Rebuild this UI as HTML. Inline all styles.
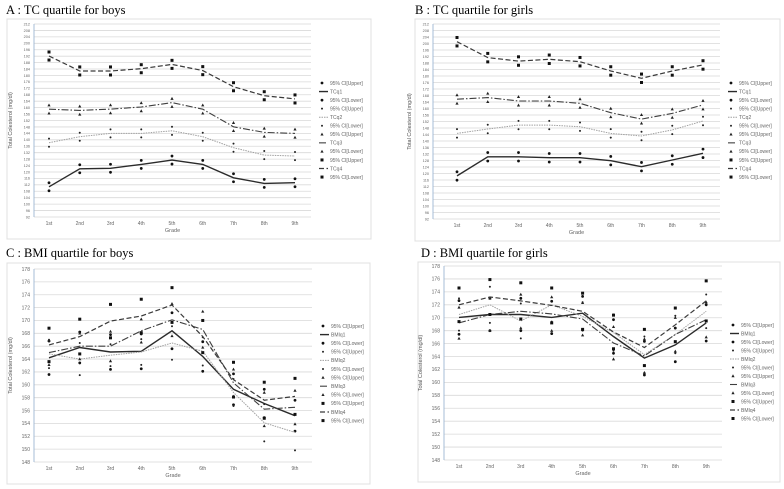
<!DOCTYPE html>
<html><head><meta charset="utf-8">
<style>
html,body{margin:0;padding:0;background:#fff;}
svg{display:block;font-family:"Liberation Sans",sans-serif;}
.ttl{font-family:"Liberation Serif",serif;font-size:12.5px;fill:#000;}
</style></head>
<body>
<svg id="fig" width="784" height="489" viewBox="0 0 784 489" xmlns="http://www.w3.org/2000/svg">
<text class="ttl" x="6" y="14">A : TC quartile for boys</text>
<text class="ttl" x="415" y="14">B : TC quartile for girls</text>
<text class="ttl" x="6" y="257">C : BMI quartile for boys</text>
<text class="ttl" x="421" y="257">D : BMI quartile for girls</text>
</svg>
<script>
const grades = ["1st","2nd","3rd","4th","5th","6th","7th","8th","9th"];
const tcTicks = [212,208,204,200,196,192,188,184,180,176,172,168,164,160,156,152,148,144,140,136,132,128,124,120,116,112,108,104,100,96,92];
const bmiTicks = [178,176,174,172,170,168,166,164,162,160,158,156,154,152,150,148];

const aQ1 = [110.8,122,122.3,124.7,127.4,124.7,116.4,112.9,113.3];
const aQ2 = [138.2,141.9,144,144,145.6,141.9,135.1,130.5,129.9];
const aQ3 = [159,158.3,159.1,160.4,163.1,159,148.1,144.6,144];
const aQ4 = [192.1,182.8,182.8,184.2,186.9,183,173,167.4,165.4];
const aCI = [2.5,2.5,2.5,2.5,2.5,2.5,2.5,2.5,2.5];

const bQ1 = [118.5,130.3,130.3,129.7,129.7,127.9,124.2,128.3,132.4];
const bQ2 = [144.7,147.4,149.8,149.8,148.8,144.7,143.1,146.8,152.3];
const bQ3 = [165.7,166.7,164.6,164.6,163.2,157.4,153.5,157,162.2];
const bQ4 = [201.1,191.3,189.2,190.3,188.8,183.1,178.6,183.1,186.8];
const bCI = [2.6,2.6,2.6,2.6,2.6,2.6,2.6,2.6,2.6];

const cQ1 = [164.2,165.8,165.1,165.2,168.4,164.4,159.3,157.1,155.2];
const cQ2 = [164.8,164,164.6,165.1,166.5,165.2,158.8,154.1,152.6];
const cQ3 = [165,166,166,168.4,170.1,168.6,160.3,156.2,156.5];
const cQ4 = [166.2,167.5,169.9,170.7,172.4,167.5,160.8,157.6,158.2];
const cCI1 = [2.6,2.4,2.7,2.7,2.8,2.3,2.4,2.2,2.4];
const cCI2 = [2.2,2.5,1.7,2.0,2.6,2.2,2.1,2.9,2.8];
const cCI3 = [1.9,2.0,2.3,1.8,2.5,2.8,2.1,2.6,2.6];
const cCI4 = [2.6,2.7,2.6,2.6,2.7,2.5,2.7,2.8,2.8];

const dQ1 = [170.05,170.5,170.5,170.05,170.7,167.1,163.75,165.8,169.2];
const dQ2 = [170.5,172,169.5,172,170.2,167.7,164.3,167.4,171];
const dQ3 = [169.2,170.5,171,170.6,169.8,166.1,164.1,167.4,169.7];
const dQ4 = [172,173.2,172.6,171.9,171,167.8,165.4,168.9,172.6];
const dCI1 = [2.6,2.5,2.5,2.5,2.6,2.6,2.6,2.6,2.8];
const dCI2 = [2.5,2.8,2.7,2.6,2.2,2.8,2.8,2.9,2.6];
const dCI3 = [2.4,2.5,2.6,2.6,2.5,2.5,2.6,2.6,2.7];
const dCI4 = [2.6,2.7,2.8,2.7,2.8,2.6,2.8,2.6,3.1];

const NS = "http://www.w3.org/2000/svg";
const svg = document.getElementById("fig");
function mk(tag, attrs, parent){
  const e = document.createElementNS(NS, tag);
  for (const k in attrs) e.setAttribute(k, attrs[k]);
  (parent||svg).appendChild(e);
  return e;
}
const styles = [
  {stroke:"#2b2b2b", dash:"", w:1.4, marker:"circle"},
  {stroke:"#a0a0a0", dash:"1.5,1", w:1, marker:"dot"},
  {stroke:"#3f3f3f", dash:"7,2,1.5,2", w:1.1, marker:"tri"},
  {stroke:"#3a3a3a", dash:"5,2.5", w:1.2, marker:"square"}
];
function marker(g, kind, x, y){
  let m;
  if (kind==="circle") m = mk("circle",{cx:x,cy:y,r:1.4,fill:"#111"},g);
  else if (kind==="dot") m = mk("circle",{cx:x,cy:y,r:1.0,fill:"#222"},g);
  else if (kind==="tri") m = mk("polygon",{points:(x)+","+(y-1.7)+" "+(x-1.6)+","+(y+1.2)+" "+(x+1.6)+","+(y+1.2),fill:"#222"},g);
  else m = mk("rect",{x:x-1.5,y:y-1.5,width:3,height:3,fill:"#111"},g);
  
  
}
function panel(p){
  const g = mk("g",{});
  
  
  const box = mk("rect",{x:p.bx,y:p.by,width:p.bw,height:p.bh,fill:"#fff",stroke:"#e0e0e0","stroke-width":1},g);
  
  
  const min = p.ticks[p.ticks.length-1], max = p.ticks[0];
  const yS = v => p.top + (max - v)/(max - min)*(p.bottom - p.top);
  const xS = i => p.x0 + i*p.dx;
  p.ticks.forEach(t => {
    const gl = mk("line",{x1:p.left,x2:p.right,y1:yS(t),y2:yS(t),stroke:"#d9d9d9","stroke-width":0.8},g);
    
    
    const tl = mk("text",{x:p.left-4,y:yS(t)+p.tfs*0.35,"font-size":p.tfs,fill:"#666","text-anchor":"end"},g);
    tl.textContent = t;
    
    
  });
  const ax = mk("line",{x1:p.left,x2:p.left,y1:p.top,y2:p.bottom,stroke:"#9db6d3","stroke-width":0.9},g);
  
  
  grades.forEach((c,i) => {
    const t = mk("text",{x:xS(i),y:p.bottom+8,"font-size":5,fill:"#666","text-anchor":"middle"},g);
    t.textContent = c;
    
    
  });
  const xt = mk("text",{x:(p.left+p.right)/2,y:p.bottom+15,"font-size":5.5,fill:"#666","text-anchor":"middle"},g);
  xt.textContent = "Grade";
  
  
  const yx = p.left-22, yy = (p.top+p.bottom)/2;
  const yt = mk("text",{x:yx,y:yy,"font-size":5.5,fill:"#555","text-anchor":"middle",transform:"rotate(-90 "+yx+" "+yy+")"},g);
  yt.textContent = "Total  Colesterol (mg/dl)";
  
  
  p.series.forEach((s,k) => {
    const st = styles[k];
    const pts = s.vals.map((v,i) => xS(i).toFixed(1)+","+yS(v).toFixed(1)).join(" ");
    const pl = mk("polyline",{points:pts,fill:"none",stroke:st.stroke,"stroke-width":st.w,"stroke-dasharray":st.dash},g);
    
    
    s.vals.forEach((v,i) => {
      marker(g, st.marker, xS(i), yS(v + s.ci[i]));
      marker(g, st.marker, xS(i), yS(v - s.ci[i]));
    });
  });
  const labels = [];
  for (let k=0;k<4;k++){ labels.push(["95% CI[Upper]",k,"m"]); labels.push([p.prefix+(k+1),k,"l"]); labels.push(["95% CI[Lower]",k,"m"]); }
  labels.forEach((L,j) => {
    const y = p.ly + j*p.lstep;
    const st = styles[L[1]];
    if (L[2]==="m") marker(g, st.marker, p.lx, y);
    else {
      const ll = mk("line",{x1:p.lx-3,x2:p.lx+6,y1:y,y2:y,stroke:st.stroke,"stroke-width":st.w,"stroke-dasharray":st.dash},g);
      
      
    }
    const lt = mk("text",{x:p.lx+8,y:y+1.8,"font-size":5,fill:"#666"},g);
    lt.textContent = L[0];
    
    
  });
}
panel({name:"panel-a-tc-boys",bx:7,by:19,bw:364,bh:220,left:34,right:311,top:24,bottom:217,x0:49,dx:30.75,ticks:tcTicks,tfs:3.8,prefix:"TCq",lx:322,ly:83,lstep:8.55,
  series:[{vals:aQ1,ci:aCI},{vals:aQ2,ci:aCI},{vals:aQ3,ci:aCI},{vals:aQ4,ci:aCI}]});
panel({name:"panel-b-tc-girls",bx:415,by:19,bw:365,bh:222,left:433,right:720,top:24,bottom:219,x0:457,dx:30.75,ticks:tcTicks,tfs:3.8,prefix:"TCq",lx:731,ly:83,lstep:8.55,
  series:[{vals:bQ1,ci:bCI},{vals:bQ2,ci:bCI},{vals:bQ3,ci:bCI},{vals:bQ4,ci:bCI}]});
panel({name:"panel-c-bmi-boys",bx:7,by:263,bw:363,bh:221,left:34,right:312,top:269,bottom:462,x0:49,dx:30.75,ticks:bmiTicks,tfs:5,prefix:"BMIq",lx:323,ly:326,lstep:8.6,
  series:[{vals:cQ1,ci:cCI1},{vals:cQ2,ci:cCI2},{vals:cQ3,ci:cCI3},{vals:cQ4,ci:cCI4}]});
panel({name:"panel-d-bmi-girls",bx:418,by:262,bw:362,bh:220,left:444,right:722,top:266,bottom:460,x0:459,dx:30.9,ticks:bmiTicks,tfs:5,prefix:"BMIq",lx:733,ly:325,lstep:8.5,
  series:[{vals:dQ1,ci:dCI1},{vals:dQ2,ci:dCI2},{vals:dQ3,ci:dCI3},{vals:dQ4,ci:dCI4}]});
</script>
</body></html>
